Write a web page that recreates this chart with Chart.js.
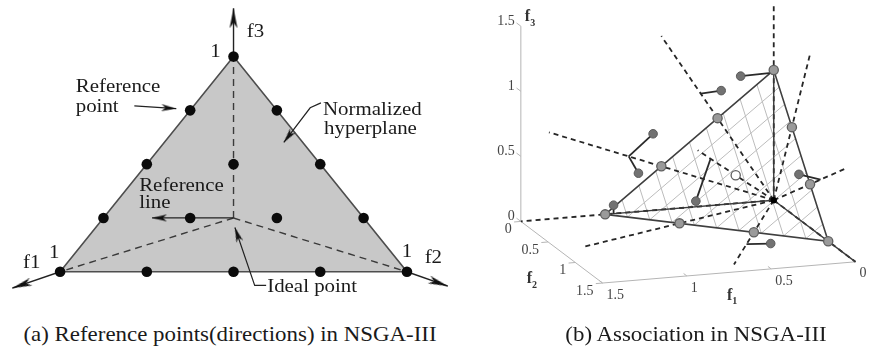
<!DOCTYPE html>
<html>
<head>
<meta charset="utf-8">
<script src="https://cdn.jsdelivr.net/npm/chart.js@4.4.7/dist/chart.umd.min.js"></script>
<style>
  html, body { margin: 0; padding: 0; background: #fff; }
  #page { position: relative; width: 874px; height: 354px; overflow: hidden; background: #fff; }
  .panel { position: absolute; top: 0; }
  #leftBox { left: 0; width: 470px; height: 310px; }
  #rightBox { left: 440px; width: 434px; height: 310px; }
  .caption {
    position: absolute; top: 320px; line-height: 28px;
    font-family: "Liberation Serif", "Times New Roman", serif; font-size: 21px;
    color: #1a1a1a; white-space: nowrap;
    transform: translateX(-50%) scaleX(1.09);
  }
  #capA { left: 230px; }
  #capB { left: 696px; }
</style>
</head>
<body>
<div id="page">
  <div class="panel" id="leftBox"><canvas id="leftChart" width="470" height="310"></canvas></div>
  <div class="panel" id="rightBox"><canvas id="rightChart" width="434" height="310"></canvas></div>
  <div class="caption" id="capA">(a) Reference points(directions) in NSGA-III</div>
  <div class="caption" id="capB">(b) Association in NSGA-III</div>
</div>
<script>
// ---------- (a) reference points on the normalized hyperplane (plane coords) ----------
const refPlaneX = [-0.5, -0.25, 0, 0.25, 0.5, -0.375, -0.125, 0.125, 0.375, -0.25, 0, 0.25, -0.125, 0.125, 0];
const refPlaneY = [0, 0, 0, 0, 0, 0.25, 0.25, 0.25, 0.25, 0.5, 0.5, 0.5, 0.75, 0.75, 1];
const cornerX = [-0.5, 0.5, 0];          // f1, f2, f3 corners (value 1 on each axis)
const cornerY = [0, 0, 1];
const axisTipX = [-0.638, 0.618, 0];     // where the f1, f2, f3 arrows end
const axisTipY = [-0.076, -0.067, 1.224];
const idealPoint = [0, 0.25];

// ---------- (b) association, objective space ----------
const refF1 = [1, 2/3, 1/3, 0, 2/3, 1/3, 0, 1/3, 0, 0];
const refF2 = [0, 1/3, 2/3, 1, 0, 1/3, 2/3, 0, 1/3, 0];
const refF3 = [0, 0, 0, 0, 1/3, 1/3, 1/3, 2/3, 2/3, 1];
const refLineEnd = [1.5, 2, 2, 1.5, 2, 2, 2, 2, 2, 1.5];

const popF1 = [0.201, 0.344, 0.758, 0.884, 0.685, 0.121, 0.333, 0.95];
const popF2 = [0.015, 0.100, 0.131, 0.252, 0.690, 0.837, 0.975, 0.0];
const popF3 = [0.980, 0.911, 0.634, 0.383, 0.285, 0.476, 0.011, 0.065];
const popRef = [9, 7, 4, 4, 5, 6, 2, 0];   // reference line each member is associated with

const meshLevels = [0.1, 0.2, 0.3, 0.4, 0.5, 0.6, 0.7, 0.8, 0.9];
const axisTicks = [0, 0.5, 1, 1.5];
const axisTickLabels = ["0", "0.5", "1", "1.5"];

// orthographic view of the 3-D box (screen units per objective unit)
const VIEW_F1 = [-1.2809, -0.1086];
const VIEW_F2 = [0.4139, -0.3156];
function project(f1, f2, f3) {
  return { x: VIEW_F1[0] * f1 + VIEW_F2[0] * f2, y: VIEW_F1[1] * f1 + VIEW_F2[1] * f2 + f3 };
}

// ---------- helpers ----------
function makeArrowHead(len, wid) {
  var c = document.createElement("canvas");
  c.width = len * 2;
  c.height = wid + 2;
  var g = c.getContext("2d");
  var cy = c.height / 2;
  g.fillStyle = "#111";
  g.beginPath();
  g.moveTo(len, cy);
  g.lineTo(0, cy - wid / 2);
  g.lineTo(len * 0.28, cy);
  g.lineTo(0, cy + wid / 2);
  g.closePath();
  g.fill();
  return c;
}

function headAngle(chart, pts) {
  var sx = chart.scales.x, sy = chart.scales.y;
  var a = pts[pts.length - 2], b = pts[pts.length - 1];
  var dx = sx.getPixelForValue(b.x) - sx.getPixelForValue(a.x);
  var dy = sy.getPixelForValue(b.y) - sy.getPixelForValue(a.y);
  return Math.atan2(dy, dx) * 180 / Math.PI;
}

function lineSet(pts, color, width, dash) {
  return {
    data: pts, showLine: true, borderColor: color, borderWidth: width,
    borderDash: dash || [], pointRadius: 0, fill: false,
  };
}

function arrowSet(pts, head, color, width) {
  return {
    data: pts, showLine: true, borderColor: color, borderWidth: width, fill: false,
    pointStyle: head,
    pointRadius: function (ctx) { return ctx.dataIndex === pts.length - 1 ? 4 : 0; },
    pointRotation: function (ctx) { return headAngle(ctx.chart, pts); },
  };
}

function textPlugin(items) {
  return {
    id: "textLabels",
    afterDatasetsDraw: function (chart) {
      var ctx = chart.ctx, sx = chart.scales.x, sy = chart.scales.y;
      items.forEach(function (it) {
        var px = sx.getPixelForValue(it.x) + (it.dx || 0);
        var py = sy.getPixelForValue(it.y) + (it.dy || 0);
        ctx.save();
        ctx.translate(px, py);
        ctx.scale(it.stretch || 1, 1);
        ctx.font = it.font;
        ctx.fillStyle = it.color || "#1a1a1a";
        ctx.textAlign = it.align || "left";
        ctx.textBaseline = "middle";
        ctx.fillText(it.text, 0, 0);
        if (it.sub) {
          var w = ctx.measureText(it.text).width;
          ctx.font = it.subFont;
          ctx.fillText(it.sub, w, 6);
        }
        ctx.restore();
      });
    },
  };
}

function baseOptions(xMin, xMax, yMin, yMax) {
  return {
    responsive: false,
    animation: false,
    events: [],
    layout: { padding: 0 },
    plugins: { legend: { display: false }, tooltip: { enabled: false } },
    scales: {
      x: { type: "linear", min: xMin, max: xMax, display: false },
      y: { type: "linear", min: yMin, max: yMax, display: false },
    },
  };
}

// ---------- (a) ----------
(function () {
  var P = function (x, y) { return { x: x, y: y }; };
  var sets = []; // bottom to top

  sets.push({
    data: [0, 1, 2, 0].map(function (i) { return P(cornerX[i], cornerY[i]); }),
    showLine: true, fill: "shape", backgroundColor: "#c8c8c8",
    borderColor: "#4e4e4e", borderWidth: 1.6, pointRadius: 0,
  });

  [0, 1, 2].forEach(function (i) {
    sets.push(lineSet([P(idealPoint[0], idealPoint[1]), P(cornerX[i], cornerY[i])], "#3a3a3a", 1.4, [7, 5]));
  });

  var axisHead = makeArrowHead(20, 8);
  [0, 1, 2].forEach(function (i) {
    sets.push(arrowSet([P(cornerX[i], cornerY[i]), P(axisTipX[i], axisTipY[i])], axisHead, "#222", 1.4));
  });

  var smallHead = makeArrowHead(15, 7);
  sets.push(arrowSet([P(-0.286, 0.771), P(-0.165, 0.758)], smallHead, "#222", 1.2));
  sets.push(arrowSet([P(idealPoint[0], idealPoint[1]), P(-0.235, 0.25)], smallHead, "#222", 1.3));
  sets.push(arrowSet([P(0.252, 0.785), P(0.221, 0.762), P(0.145, 0.601)], smallHead, "#222", 1.2));
  sets.push(arrowSet([P(0.094, -0.063), P(0.061, -0.063), P(0.004, 0.206)], smallHead, "#222", 1.2));

  sets.push({
    data: refPlaneX.map(function (x, i) { return P(x, refPlaneY[i]); }),
    pointRadius: 5.3, pointBackgroundColor: "#0b0b0b", pointBorderWidth: 0,
  });

  var F = '19px "Liberation Serif"';
  var labels = [
    { text: "f3", x: 0.038, y: 1.112 },
    { text: "1", x: -0.052, y: 1.022, align: "center" },
    { text: "Reference", x: -0.455, y: 0.857 },
    { text: "point", x: -0.455, y: 0.767 },
    { text: "Normalized", x: 0.258, y: 0.753 },
    { text: "hyperplane", x: 0.261, y: 0.664 },
    { text: "Reference", x: -0.272, y: 0.399 },
    { text: "line", x: -0.272, y: 0.318 },
    { text: "Ideal point", x: 0.097, y: -0.072 },
    { text: "1", x: -0.517, y: 0.085, align: "center" },
    { text: "f1", x: -0.607, y: 0.040 },
    { text: "1", x: 0.5, y: 0.094, align: "center" },
    { text: "f2", x: 0.551, y: 0.063 },
  ].map(function (l) { l.font = F; l.stretch = 1.1; return l; });

  new Chart(document.getElementById("leftChart"), {
    type: "scatter",
    data: { datasets: sets.reverse() },
    options: baseOptions(-0.6577, 0.6662, -0.1525, 1.2377),
    plugins: [textPlugin(labels)],
  });
})();

// ---------- (b) ----------
(function () {
  var sets = []; // bottom to top
  var O = project(0, 0, 0);

  // box axes and tick marks
  var boxColor = "#b5b5b5";
  sets.push(lineSet([project(1.5, 0, 0), project(1.5, 0, 1.5)], boxColor, 1));
  sets.push(lineSet([project(1.5, 0, 0), project(1.5, 1.5, 0)], boxColor, 1));
  sets.push(lineSet([project(1.5, 1.5, 0), project(0, 1.5, 0)], boxColor, 1));
  axisTicks.forEach(function (t) {
    sets.push(lineSet([project(1.5, 0, t), project(1.5, -0.08, t)], boxColor, 1));
    sets.push(lineSet([project(1.5, t, 0), project(1.54, t, 0)], boxColor, 1));
    sets.push(lineSet([project(t, 1.5, 0), project(t, 1.44, 0)], boxColor, 1));
  });

  // mesh on the hyperplane f1 + f2 + f3 = 1
  meshLevels.forEach(function (c) {
    sets.push(lineSet([project(c, 0, 1 - c), project(c, 1 - c, 0)], "#bcbcbc", 1));
    sets.push(lineSet([project(0, c, 1 - c), project(1 - c, c, 0)], "#bcbcbc", 1));
  });

  // reference lines from the ideal point
  refF1.forEach(function (r1, i) {
    var e = refLineEnd[i];
    sets.push(lineSet([O, project(e * r1, e * refF2[i], e * refF3[i])], "#262626", 1.8, [5, 4]));
  });

  // solid rays along the axes
  sets.push(lineSet([O, project(1, 0, 0)], "#3a3a3a", 1.4));
  sets.push(lineSet([O, project(0, 0, 1)], "#3a3a3a", 1.4));
  sets.push(lineSet([O, project(0, 1.5, 0)], "#3a3a3a", 1.4));

  // hyperplane edges
  sets.push(lineSet([project(1, 0, 0), project(0, 1, 0), project(0, 0, 1), project(1, 0, 0)], "#3f3f3f", 1.6));

  // perpendicular distance of each member to its reference line
  popF1.forEach(function (p1, k) {
    var i = popRef[k];
    var r = [refF1[i], refF2[i], refF3[i]];
    var t = (p1 * r[0] + popF2[k] * r[1] + popF3[k] * r[2]) / (r[0] * r[0] + r[1] * r[1] + r[2] * r[2]);
    sets.push(lineSet([project(p1, popF2[k], popF3[k]), project(t * r[0], t * r[1], t * r[2])], "#2a2a2a", 1.8));
  });

  sets.push({
    data: refF1.map(function (r1, i) { return project(r1, refF2[i], refF3[i]); }),
    pointRadius: 4.6,
    pointBackgroundColor: refF1.map(function (r1, i) { return i === 5 ? "#ffffff" : "#9a9a9a"; }),
    pointBorderColor: "#5e5e5e", pointBorderWidth: 1.3,
  });

  sets.push({
    data: popF1.map(function (p1, k) { return project(p1, popF2[k], popF3[k]); }),
    pointRadius: 4.3, pointBackgroundColor: "#727272",
    pointBorderColor: "#5a5a5a", pointBorderWidth: 1,
  });

  sets.push({ data: [O], pointRadius: 3.2, pointBackgroundColor: "#000", pointBorderWidth: 0 });

  var TF = '14px "Liberation Serif"';
  var labels = [];
  axisTicks.forEach(function (t, i) {
    var a = project(1.5, 0, t), b = project(1.5, t, 0), c = project(t, 1.5, 0);
    labels.push({ text: axisTickLabels[i], x: a.x, y: a.y, dx: -6, dy: -5, align: "right", font: TF, color: "#444" });
    labels.push({ text: axisTickLabels[i], x: b.x, y: b.y, dx: -9, dy: 8, align: "right", font: TF, color: "#444" });
    labels.push({ text: axisTickLabels[i], x: c.x, y: c.y, dx: 4, dy: 12, align: "left", font: TF, color: "#444" });
  });
  var titleFont = 'bold 16px "Liberation Serif"', subFont = 'bold 10px "Liberation Serif"';
  var t3 = project(1.5, 0, 1.5), t2 = project(1.5, 0.75, 0), t1 = project(0.75, 1.5, 0);
  labels.push({ text: "f", sub: "3", x: t3.x, y: t3.y, dx: 4, dy: -9, font: titleFont, subFont: subFont, color: "#333" });
  labels.push({ text: "f", sub: "2", x: t2.x, y: t2.y, dx: -35, dy: 27, font: titleFont, subFont: subFont, color: "#333" });
  labels.push({ text: "f", sub: "1", x: t1.x, y: t1.y, dx: -2, dy: 23, font: titleFont, subFont: subFont, color: "#333" });

  new Chart(document.getElementById("rightChart"), {
    type: "scatter",
    data: { datasets: sets.reverse() },
    options: baseOptions(-2.4908, 0.7169, -0.7982, 1.4930),
    plugins: [textPlugin(labels)],
  });
})();
</script>
</body>
</html>
